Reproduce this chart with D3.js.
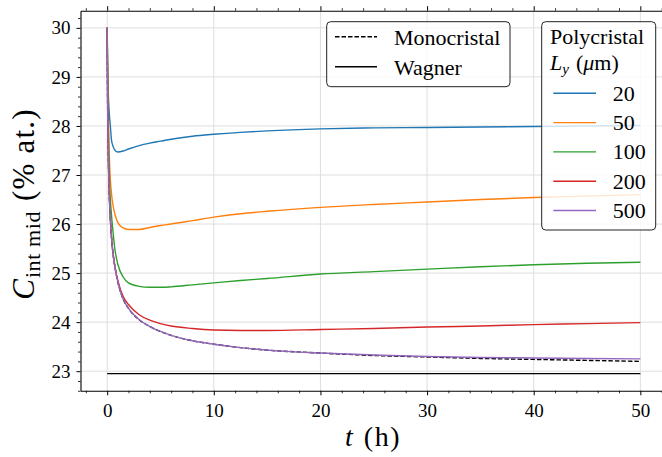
<!DOCTYPE html>
<html>
<head>
<meta charset="utf-8">
<script src="https://cdn.jsdelivr.net/npm/d3@7"></script>
<style>
  html, body { margin: 0; padding: 0; background: #fff; }
</style>
</head>
<body>
<svg id="chart" width="662" height="457"></svg>
<script>
// ---------------- data ----------------
const timeH = [0, 0.05, 0.1, 0.2, 0.3, 0.4, 0.5, 0.75, 1, 1.5, 2, 3, 4, 5, 6, 8, 10, 12.5, 15, 20, 25, 30, 35, 40, 45, 50];
const poly20  = [30, 29.2, 28.7, 28.25, 28.0, 27.72, 27.62, 27.5, 27.47, 27.49, 27.53, 27.6, 27.65, 27.69, 27.73, 27.79, 27.83, 27.87, 27.9, 27.94, 27.96, 27.97, 27.98, 27.99, 28.0, 28.01];
const poly50  = [30, 29.0, 28.3, 27.4, 26.9, 26.63, 26.45, 26.18, 26.03, 25.92, 25.89, 25.89, 25.93, 25.97, 26.0, 26.07, 26.14, 26.21, 26.26, 26.34, 26.4, 26.45, 26.5, 26.54, 26.57, 26.6];
const poly100 = [30, 28.8, 28.0, 27.0, 26.5, 26.2, 25.95, 25.45, 25.18, 24.92, 24.8, 24.73, 24.71, 24.71, 24.72, 24.76, 24.8, 24.85, 24.89, 24.98, 25.03, 25.08, 25.13, 25.17, 25.2, 25.22];
const poly200 = [30, 28.3, 27.5, 26.6, 26.1, 25.75, 25.5, 25.1, 24.85, 24.52, 24.36, 24.15, 24.04, 23.97, 23.92, 23.87, 23.84, 23.83, 23.83, 23.85, 23.87, 23.9, 23.92, 23.95, 23.97, 23.99];
const poly500 = [30, 28.3, 27.5, 26.6, 26.1, 25.75, 25.5, 25.1, 24.82, 24.47, 24.28, 24.05, 23.91, 23.81, 23.73, 23.62, 23.55, 23.48, 23.43, 23.37, 23.33, 23.3, 23.28, 23.27, 23.26, 23.25];
const mono    = [30, 28.3, 27.5, 26.6, 26.1, 25.75, 25.5, 25.1, 24.82, 24.47, 24.28, 24.05, 23.91, 23.81, 23.73, 23.62, 23.55, 23.48, 23.43, 23.37, 23.32, 23.29, 23.26, 23.24, 23.22, 23.2];
const wagnerT = [0, 50];
const wagnerC = [22.95, 22.95];
const sizeLabels = ["20", "50", "100", "200", "500"];
const seriesColors = ["#1f77b4", "#ff7f0e", "#2ca02c", "#d62728", "#9467bd"];
const xMajor = [0, 10, 20, 30, 40, 50];
const yMajor = [23, 24, 25, 26, 27, 28, 29, 30];

const polySeries = [poly20, poly50, poly100, poly200, poly500];

// ---------------- pick an installed serif font ----------------
function pickSerif() {
  const c = document.createElement("canvas").getContext("2d");
  const probe = "Polycristal Monocristal 0123456789 mwiIl";
  const w = f => { c.font = "40px " + f; return c.measureText(probe).width; };
  const wMono = w("monospace"), wSans = w("sans-serif");
  const cands = ["Liberation Serif", "DejaVu Serif", "Tinos", "Noto Serif", "Times New Roman", "FreeSerif", "Nimbus Roman", "Times"];
  for (const f of cands) {
    const a = w(`"${f}", monospace`), b = w(`"${f}", sans-serif`);
    if (Math.abs(a - wMono) > 0.5 || Math.abs(b - wSans) > 0.5) {
      if (Math.abs(a - b) < 0.5) return `"${f}"`;
    }
  }
  return "serif";
}
const FONT = pickSerif();

// ---------------- layout ----------------
const svg = d3.select("#chart").style("font-family", FONT);
const pL = 80.5, pR = 667, pT = 10.7, pB = 390.8;
const x = d3.scaleLinear().domain([-2.5, 52.5]).range([pL, pR]);
const y = d3.scaleLinear().domain([22.6, 30.35]).range([pB, pT]);

const xMinor = d3.range(-2, 53, 2).filter(v => v % 10 !== 0);
const yMinor = d3.range(22.6, 30.36, 0.2).map(v => +v.toFixed(1)).filter(v => Math.abs(v - Math.round(v)) > 1e-6);

// grid
const grid = svg.append("g");
grid.selectAll("line.gx").data(xMajor).join("line")
  .attr("x1", d => x(d)).attr("x2", d => x(d)).attr("y1", pT).attr("y2", pB)
  .attr("stroke", "#dedede").attr("stroke-width", 1);
grid.selectAll("line.gy").data(yMajor).join("line")
  .attr("x1", pL).attr("x2", pR).attr("y1", d => y(d)).attr("y2", d => y(d))
  .attr("stroke", "#dedede").attr("stroke-width", 1);

// lines
const line = d3.line().x(d => x(d[0])).y(d => y(d[1])).curve(d3.curveMonotoneX);
const plot = svg.append("g");
plot.append("path").datum(wagnerT.map((t, i) => [t, wagnerC[i]]))
  .attr("d", line).attr("fill", "none").attr("stroke", "#000").attr("stroke-width", 1.4);
plot.append("path").datum(timeH.map((t, i) => [t, mono[i]]))
  .attr("d", line).attr("fill", "none").attr("stroke", "#000").attr("stroke-width", 1.4)
  .attr("stroke-dasharray", "4.5,2");
polySeries.forEach((s, k) => {
  plot.append("path").datum(timeH.map((t, i) => [t, s[i]]))
    .attr("d", line).attr("fill", "none").attr("stroke", seriesColors[k]).attr("stroke-width", 1.4);
});

// axes
function styleAxis(g) {
  g.attr("font-family", null).style("font-family", FONT);
  g.select(".domain").attr("stroke", "#000").attr("stroke-width", 1.1);
  g.selectAll(".tick line").attr("stroke", "#000").attr("stroke-width", 1);
  g.selectAll(".tick text").style("font-family", FONT).attr("font-size", 19).attr("fill", "#000");
}
const axB = svg.append("g").attr("transform", `translate(0,${pB})`)
  .call(d3.axisBottom(x).tickValues(xMajor).tickSize(4.5).tickPadding(4).tickSizeOuter(0).tickFormat(d3.format("d")));
styleAxis(axB);
axB.selectAll(".tick text").attr("dy", "0.95em");
svg.append("g").attr("transform", `translate(0,${pB})`)
  .call(d3.axisBottom(x).tickValues(xMinor).tickSize(2.5).tickSizeOuter(0).tickFormat(""))
  .call(g => { g.select(".domain").remove(); g.selectAll(".tick line").attr("stroke", "#000").attr("stroke-width", 0.8); });

const axT = svg.append("g").attr("transform", `translate(0,${pT})`)
  .call(d3.axisTop(x).tickValues(xMajor).tickSize(4.5).tickSizeOuter(0).tickFormat(""));
styleAxis(axT);
svg.append("g").attr("transform", `translate(0,${pT})`)
  .call(d3.axisTop(x).tickValues(xMinor).tickSize(2.5).tickSizeOuter(0).tickFormat(""))
  .call(g => { g.select(".domain").remove(); g.selectAll(".tick line").attr("stroke", "#000").attr("stroke-width", 0.8); });

const axL = svg.append("g").attr("transform", `translate(${pL},0)`)
  .call(d3.axisLeft(y).tickValues(yMajor).tickSize(4).tickPadding(6).tickSizeOuter(0).tickFormat(d3.format("d")));
styleAxis(axL);
svg.append("g").attr("transform", `translate(${pL},0)`)
  .call(d3.axisLeft(y).tickValues(yMinor).tickSize(2.5).tickSizeOuter(0).tickFormat(""))
  .call(g => { g.select(".domain").remove(); g.selectAll(".tick line").attr("stroke", "#000").attr("stroke-width", 0.8); });

const axR = svg.append("g").attr("transform", `translate(${pR},0)`)
  .call(d3.axisRight(y).tickValues(yMajor).tickSize(4).tickSizeOuter(0).tickFormat(""));
styleAxis(axR);

// axis labels
const xl = svg.append("text").attr("x", 373).attr("y", 446)
  .attr("text-anchor", "middle").attr("font-size", 28).attr("fill", "#000");
xl.append("tspan").attr("font-style", "italic").text("t");
xl.append("tspan").attr("dx", 11).attr("letter-spacing", 1.5).text("(h)");

const yl = svg.append("text").attr("transform", `translate(34,204) rotate(-90)`)
  .attr("text-anchor", "middle").attr("font-size", 31).attr("fill", "#000");
yl.append("tspan").attr("font-style", "italic").text("C");
yl.append("tspan").attr("font-size", 22).attr("letter-spacing", 0.6).attr("dy", 6).attr("dx", 1).text("int mid");
yl.append("tspan").attr("dy", -6).attr("dx", 10).attr("letter-spacing", 1.2).text("(% at.)");

// legend 1
const lg1 = svg.append("g");
lg1.append("rect").attr("x", 326.7).attr("y", 21.7).attr("width", 183.3).attr("height", 65)
  .attr("rx", 4).attr("fill", "#fff").attr("fill-opacity", 0.8).attr("stroke", "#222").attr("stroke-width", 1);
const lg1Items = [{ label: "Monocristal", dash: "4.5,2" }, { label: "Wagner", dash: null }];
lg1Items.forEach((d, i) => {
  const yy = 36.7 + i * 30;
  lg1.append("line").attr("x1", 335).attr("x2", 377).attr("y1", yy).attr("y2", yy)
    .attr("stroke", "#000").attr("stroke-width", 1.4).attr("stroke-dasharray", d.dash);
  lg1.append("text").attr("x", 394).attr("y", yy + 8).attr("font-size", 22).attr("fill", "#000").text(d.label);
});

// legend 2
const lg2 = svg.append("g");
lg2.append("rect").attr("x", 541.7).attr("y", 21.7).attr("width", 114).attr("height", 208.3)
  .attr("rx", 4).attr("fill", "#fff").attr("fill-opacity", 0.8).attr("stroke", "#222").attr("stroke-width", 1);
lg2.append("text").attr("x", 550).attr("y", 44).attr("font-size", 22).attr("fill", "#000").text("Polycristal");
const t2 = lg2.append("text").attr("x", 550).attr("y", 70).attr("font-size", 22).attr("fill", "#000");
t2.append("tspan").attr("font-style", "italic").text("L");
t2.append("tspan").attr("font-style", "italic").attr("font-size", 15).attr("dy", 4).text("y");
t2.append("tspan").attr("dy", -4).attr("dx", 7).text("(");
t2.append("tspan").attr("font-style", "italic").text("μ");
t2.append("tspan").text("m)");
sizeLabels.forEach((lab, i) => {
  const yy = 93.3 + i * 29.3;
  lg2.append("line").attr("x1", 553.3).attr("x2", 596).attr("y1", yy).attr("y2", yy)
    .attr("stroke", seriesColors[i]).attr("stroke-width", 1.4);
  lg2.append("text").attr("x", 612.7).attr("y", yy + 7.5).attr("font-size", 22).attr("fill", "#000").text(lab);
});
</script>
</body>
</html>
